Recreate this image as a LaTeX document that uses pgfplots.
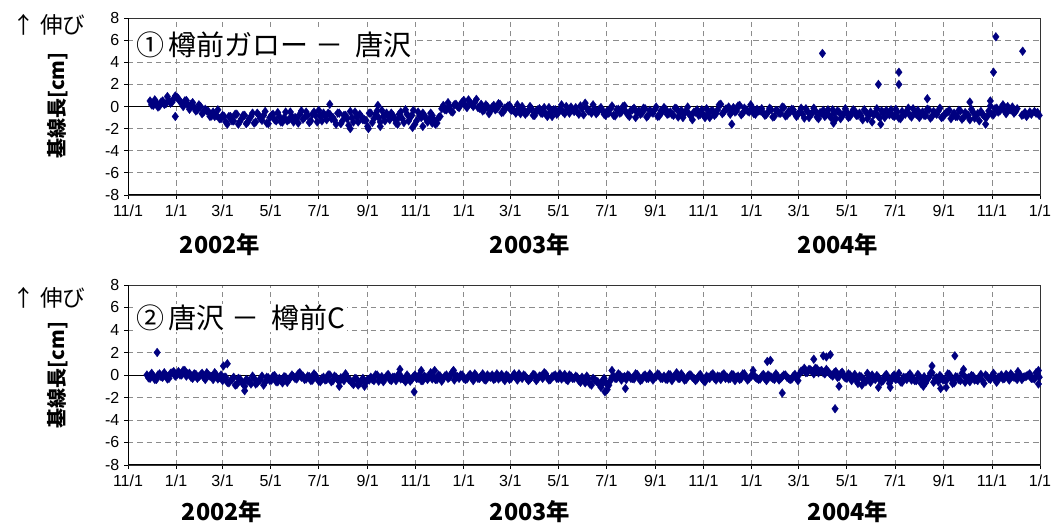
\documentclass[border=0pt]{standalone}
\usepackage{fontspec}
\setmainfont{Liberation Sans}
\newfontfamily\jp{Noto Sans CJK JP}
\usepackage{pgfplots}
\pgfplotsset{compat=1.18}
\definecolor{navy}{RGB}{0,0,128}
\definecolor{gridgray}{RGB}{140,140,140}

% days since 2001-11-01
\pgfplotstableread{
d v
28 0.5
32 0.1
36 0.35
40 0.05
44 0.5
48 0.25
52 0.55
56 0.4
60 0.95
64 0.7
68 0.3
72 0.5
76 0.1
80 0.2
84 -0.1
88 -0.3
92 0.0
96 -0.5
100 -0.4
104 -0.9
108 -0.5
112 -0.8
116 -1.1
120 -0.8
124 -1.4
128 -0.9
132 -1.3
136 -0.7
140 -1.6
144 -1.1
148 -0.8
152 -1.4
156 -0.9
160 -1.5
164 -0.6
168 -1.1
172 -0.8
176 -1.5
180 -1.0
184 -0.7
188 -1.3
192 -0.9
196 -1.4
200 -0.5
204 -1.2
208 -0.9
212 -1.0
216 -1.5
220 -0.4
224 -1.0
228 -0.8
232 -1.3
236 -0.5
240 -1.4
244 -0.9
248 -0.6
252 -1.2
256 -0.7
260 -1.0
264 -1.6
268 -0.6
272 -1.3
276 -0.8
280 -1.7
284 -1.0
288 -0.5
292 -1.4
296 -0.9
300 -1.2
304 -1.8
308 -0.6
312 -1.1
316 -0.4
320 -1.4
324 -0.9
328 -0.6
332 -1.2
336 -0.8
340 -1.5
344 -0.7
348 -1.1
352 -0.3
356 -1.3
360 -0.8
364 -1.6
368 -0.5
372 -1.0
376 -0.8
380 -1.4
384 -0.6
388 -1.2
392 -1.5
396 -0.9
400 0.1
404 -0.3
408 0.0
412 -0.5
416 0.2
420 -0.1
424 0.4
428 0.1
432 0.6
436 0.2
440 0.4
444 -0.1
448 0.2
452 -0.3
456 0.0
460 -0.4
464 0.1
468 -0.2
472 0.2
476 -0.5
480 -0.1
484 0.1
488 -0.3
492 -0.6
496 -0.2
500 0.0
504 -0.7
508 -0.4
512 -0.2
516 -0.8
520 -0.3
524 -0.6
528 -0.1
532 -0.9
536 -0.5
540 -0.3
544 -0.7
548 -0.2
552 -0.5
556 0.0
560 -0.6
564 -0.3
568 -0.1
572 -0.7
576 -0.2
580 0.3
584 -0.4
588 -0.6
592 -0.2
596 -0.5
600 -0.1
604 -0.7
608 -0.4
612 -0.2
616 -0.8
620 -0.3
624 -0.6
628 0.0
632 -0.5
636 -0.9
640 -0.3
644 -1.0
648 -0.4
652 -0.6
656 -0.2
660 -0.8
664 -0.5
668 -0.3
672 -0.9
676 -0.4
680 -0.1
684 -0.7
688 -0.5
692 -0.8
696 -0.2
700 -0.6
704 -1.0
708 -0.4
712 -0.7
716 -1.2
720 -0.5
724 -0.8
728 -0.3
732 -1.0
736 -0.6
740 -0.4
744 -0.8
748 -0.3
752 0.2
756 -0.5
760 -0.2
764 -0.7
768 -0.1
772 -0.4
776 0.1
780 -0.6
784 -0.3
788 -0.5
792 -0.1
796 -0.7
800 -0.4
804 -0.2
808 -0.8
812 -0.5
816 -0.3
820 -0.9
824 -0.4
828 -0.6
832 -0.1
836 -0.8
840 -0.5
844 -0.3
848 -0.9
852 -0.5
856 -0.7
860 -0.2
864 -1.0
868 -0.6
872 -0.4
876 -1.1
880 -0.6
884 -0.9
888 -0.3
892 -1.0
896 -0.6
900 -0.4
904 -1.1
908 -0.7
912 -0.5
916 -0.9
920 -0.3
924 -0.8
928 -0.6
932 -1.2
936 -0.5
940 -0.8
944 -1.4
948 -0.6
952 -0.9
956 -0.4
960 -1.0
964 -0.6
968 -0.3
972 -0.9
976 -0.5
980 -1.1
984 -0.7
988 -0.4
992 -0.8
996 -0.2
1000 -0.7
1004 -1.0
1008 -0.5
1012 -0.8
1016 -0.3
1020 -0.9
1024 -0.6
1028 -0.4
1032 -1.0
1036 -0.7
1040 -0.5
1044 -1.1
1048 -0.6
1052 -0.9
1056 -0.4
1060 -1.0
1064 -0.7
1068 -1.2
1072 -0.5
1076 -0.8
1080 -1.3
1084 -0.7
1088 -1.0
1092 -0.4
1096 -0.7
1100 -0.2
1104 -0.5
1108 -0.1
1112 -0.4
1116 0.0
1120 -0.3
1124 -0.6
1128 -0.2
1136 -0.7
1140 -0.9
1144 -0.5
1152 -0.6
1156 -0.8
60 -0.9
256 0.2
317 0.1
282 -2.0
305 -2.0
320 -1.8
342 -1.6
361 -1.9
374 -1.8
386 -1.5
766 -1.6
895 -1.5
955 -1.6
1088 -1.6
881 4.8
952 2.0
978 3.1
978 2.0
1014 0.7
1068 0.4
1094 0.5
1098 3.1
1101 6.3
1135 5.0
}\tarumaeA

\pgfplotstableread{
d v
24 0.0
28 -0.3
32 -0.1
36 -0.4
40 0.1
44 -0.2
48 0.0
52 -0.3
56 0.2
60 -0.1
64 0.3
68 0.0
72 0.4
76 0.1
80 -0.2
84 0.1
88 -0.3
92 0.0
96 -0.2
100 0.2
104 -0.1
108 -0.4
112 0.0
116 -0.2
120 -0.5
124 -0.2
128 -0.7
132 -0.4
136 -0.9
140 -0.3
144 -0.6
148 -1.0
152 -0.5
156 -0.8
160 -0.3
164 -0.7
168 -0.4
172 -0.9
176 -0.2
180 -0.5
184 -0.1
188 -0.6
192 -0.3
196 -0.7
200 -0.2
204 -0.4
208 0.0
212 -0.3
216 0.1
220 -0.2
224 -0.4
228 -0.1
232 -0.5
236 0.1
240 -0.3
244 -0.6
248 -0.2
252 -0.4
256 0.0
260 -0.5
264 -0.2
268 -0.6
272 -0.3
276 0.1
280 -0.4
284 -0.7
288 -0.3
292 -0.9
296 -0.5
300 -1.0
304 -0.4
308 -0.2
312 -0.5
316 0.0
320 -0.3
324 -0.6
328 -0.1
332 -0.4
336 -0.2
340 -0.5
344 0.1
348 -0.3
352 -0.6
356 -0.2
360 -0.4
364 0.0
368 -0.3
372 -0.5
376 -0.1
380 -0.4
384 0.2
388 -0.2
392 -0.4
396 -0.1
400 -0.3
404 0.0
408 -0.2
412 0.3
416 -0.1
420 -0.3
424 0.0
428 -0.4
432 -0.1
436 -0.2
440 0.1
444 -0.3
448 -0.1
452 -0.4
456 0.0
460 -0.2
464 -0.4
468 0.1
472 -0.2
476 -0.3
480 0.0
484 -0.4
488 -0.1
492 -0.2
496 0.1
500 -0.3
504 -0.1
508 -0.5
512 -0.2
516 0.0
520 -0.3
524 -0.1
528 0.2
532 -0.2
536 -0.4
540 -0.1
544 -0.3
548 0.1
552 -0.2
556 -0.4
560 0.0
564 -0.3
568 -0.1
572 -0.5
576 -0.2
580 -0.7
584 -0.3
588 -0.9
592 -0.4
596 -0.6
600 -1.1
604 -0.3
608 -1.3
612 -0.5
616 -0.1
620 -0.3
624 0.0
628 -0.2
632 -0.4
636 -0.1
640 -0.3
644 0.1
648 -0.2
652 -0.4
656 0.0
660 -0.3
664 -0.1
668 -0.2
672 0.1
676 -0.3
680 -0.1
684 -0.4
688 0.0
692 -0.2
696 0.2
700 -0.3
704 -0.1
708 -0.4
712 0.0
716 -0.2
720 -0.5
724 -0.1
728 -0.3
732 -0.6
736 -0.2
740 0.0
744 -0.3
748 -0.1
752 -0.4
756 0.1
760 -0.2
764 -0.3
768 0.0
772 -0.2
776 -0.4
780 0.1
784 -0.2
788 -0.3
792 0.0
796 -0.2
800 -0.4
804 -0.1
808 -0.3
812 0.0
816 -0.2
820 -0.4
824 -0.1
828 -0.3
832 0.0
836 -0.2
840 -0.4
844 -0.1
848 -0.3
852 0.1
856 0.4
860 0.2
864 0.5
868 0.3
872 0.6
876 0.2
880 0.4
884 0.1
888 0.3
892 0.0
896 0.2
900 -0.2
904 0.1
908 -0.1
912 -0.3
916 0.0
920 -0.2
924 -0.5
928 -0.1
932 -0.3
936 -0.6
940 -0.2
944 0.0
948 -0.4
952 -0.2
956 -0.6
960 -0.1
964 -0.3
968 -0.5
972 0.0
976 -0.3
980 -0.6
984 -0.2
988 -0.4
992 0.1
996 -0.3
1000 -0.5
1004 -0.1
1008 -0.4
1012 -0.7
1016 -0.2
1020 0.2
1024 -0.3
1028 -0.6
1032 -0.2
1036 -0.4
1040 0.1
1044 -0.3
1048 -0.7
1052 -0.2
1056 -0.5
1060 0.0
1064 -0.3
1068 -0.6
1072 -0.1
1076 -0.4
1080 -0.2
1084 -0.5
1088 0.0
1092 -0.3
1096 -0.1
1100 -0.4
1104 -0.2
1108 0.0
1112 -0.3
1116 -0.1
1120 0.1
1124 -0.2
1128 -0.4
1132 0.0
1136 -0.2
1140 -0.1
1144 0.1
1148 -0.3
1152 0.2
1156 -0.2
37 2.0
121 0.8
126 1.0
148 -1.4
268 -1.0
363 -1.5
345 0.5
372 0.4
389 0.4
413 0.4
600 -0.9
605 -1.5
614 0.4
631 -1.2
793 0.4
811 1.2
815 1.3
830 -1.6
870 1.4
882 1.7
886 1.6
891 1.8
897 -3.0
902 -1.0
931 -0.9
952 -1.1
967 -1.1
1009 -1.0
1020 0.8
1031 -1.2
1038 -1.1
1049 1.7
1060 0.5
1129 0.3
1155 0.4
1155 -0.8
}\karasawaC

\pgfplotsset{
  kiban/.style={
    scale only axis,
    width=684pt,
    xmin=0, xmax=1157,
    ymin=-8, ymax=8,
    ytick={-8,-6,...,8},
    xtick={0,61,120,181,242,304,365,426,485,546,607,669,730,791,851,912,973,1035,1096,1157},
    xticklabels={11/1,1/1,3/1,5/1,7/1,9/1,11/1,1/1,3/1,5/1,7/1,9/1,11/1,1/1,3/1,5/1,7/1,9/1,11/1,1/1},
    minor x tick num=3,
    xtick pos=bottom, ytick pos=left,
    tick align=outside,
    major tick length=3pt, minor tick length=2pt,
    every tick/.style={black, line width=0.6pt},
    grid=major,
    major grid style={gridgray, line width=0.6pt, dash pattern=on 4pt off 3pt},
    axis line style={black!80, line width=0.5pt},
    /pgf/number format/assume math mode=true,
    ticklabel style={font=\fontsize{12}{12}\selectfont},
    xticklabel style={yshift=-1pt},
    clip=true,
  },
  dots/.style={only marks, mark=diamond*, mark size=3.3pt,
    mark options={fill=navy, draw=navy, line width=0.2pt}},
}

\begin{document}
\begin{tikzpicture}
\path[use as bounding box] (0,0) rectangle (793.5pt,392.25pt);

% panel 1
\begin{axis}[kiban, at={(96pt,246pt)}, anchor=south west, height=132.75pt]
  \addplot[black, line width=0.7pt, no marks] coordinates {(0,0) (1157,0)};
  \addplot[dots] table[x=d, y=v] {\tarumaeA};
  \addplot[dots] coordinates {
    (30,0.15) (34,0.6) (38,-0.05) (42,0.4) (46,0.2) (50,0.9) (54,0.3) (58,0.7) (62,0.85) (66,0.45)
    (70,0.0) (74,0.55) (78,-0.25) (82,0.35) (86,-0.4) (90,0.15) (94,-0.65) (98,-0.25)
    (102,-0.45) (106,-0.85) (110,-0.9) (114,-0.3) (118,-1.1) (122,-0.9) (126,-1.6) (130,-0.9)
    (134,-1.3) (138,-0.7) (142,-1.35) (146,-0.8) (150,-1.55) (154,-1.1) (158,-0.6) (162,-1.4)
    (166,-0.8) (170,-1.25) (174,-0.45) (178,-1.55) (182,-0.8) (186,-1.2) (190,-0.55) (194,-1.4)
    (198,-1.0) (202,-1.3) (206,-0.5) (210,-1.4) (214,-1.1) (218,-0.7) (222,-1.15) (226,-0.5)
    (230,-1.45) (234,-0.7) (238,-0.8) (242,-0.35) (246,-1.3) (250,-0.85) (254,-0.6) (258,-1.1)
    (262,-1.25) (266,-0.6) (270,-1.55) (274,-0.8) (278,-1.1) (282,-0.45) (286,-1.4) (290,-0.95)
    (294,-0.7) (298,-1.2) (302,-1.25) (306,-0.6) (310,-1.45) (314,-0.7) (318,-1.0) (322,-0.35)
    (326,-1.3) (330,-0.85) (334,-0.6) (338,-1.1) (342,-1.15) (346,-0.5) (350,-1.45) (354,-0.7)
    (358,-1.0) (362,-0.35) (366,-1.3) (370,-0.85) (374,-0.6) (378,-1.1) (382,-1.15) (386,-0.8)
    (390,-1.6) (394,-1.0) (398,-0.2) (402,-0.3) (406,0.35) (410,-0.45) (414,0.15) (418,0.0)
    (422,0.2) (426,0.55) (430,-0.1) (434,0.35) (438,0.0) (442,0.65) (446,-0.15) (450,-0.4)
    (454,0.15) (458,-0.65) (462,-0.05) (466,-0.3) (470,0.25) (474,-0.55) (478,-0.15) (482,0.05)
    (486,-0.35) (490,-0.4) (494,0.15) (498,-0.65) (502,-0.3) (506,-0.55) (510,0.0) (514,-0.8)
    (518,-0.4) (522,-0.2) (526,-0.6) (530,-0.65) (534,-0.1) (538,-0.9) (542,-0.3) (546,-0.55)
    (550,0.15) (554,-0.65) (558,-0.25) (562,-0.05) (566,-0.45) (570,-0.5) (574,0.05) (578,-0.75)
    (582,-0.15) (586,-0.4) (590,0.15) (594,-0.65) (598,-0.25) (602,-0.35) (606,-0.8) (610,-0.6)
    (614,0.05) (618,-0.85) (622,-0.25) (626,-0.5) (630,0.05) (634,-0.75) (638,-0.35) (642,-0.15)
    (646,-0.55) (650,-0.7) (654,-0.15) (658,-0.95) (662,-0.35) (666,-0.6) (670,-0.05) (674,-0.85)
    (678,-0.45) (682,-0.25) (686,-0.65) (690,-0.7) (694,-0.15) (698,-0.95) (702,-0.35) (706,-0.6)
    (710,-0.05) (714,-0.85) (718,-0.5) (722,-0.3) (726,-0.7) (730,-0.75) (734,-0.2) (738,-1.0)
    (742,-0.4) (746,-0.65) (750,0.15) (754,-0.65) (758,-0.25) (762,-0.05) (766,-0.45) (770,-0.5)
    (774,0.05) (778,-0.75) (782,-0.15) (786,-0.4) (790,0.15) (794,-0.65) (798,-0.25) (802,-0.4)
    (806,-0.6) (810,-0.7) (814,-0.15) (818,-0.95) (822,-0.35) (826,-0.6) (830,-0.05) (834,-0.85)
    (838,-0.45) (842,-0.25) (846,-0.65) (850,-0.7) (854,-0.15) (858,-1.05) (862,-0.45) (866,-0.7)
    (870,-0.15) (874,-0.95) (878,-0.55) (882,-0.35) (886,-0.75) (890,-0.85) (894,-0.3) (898,-1.1)
    (902,-0.5) (906,-0.75) (910,-0.2) (914,-1.0) (918,-0.6) (922,-0.4) (926,-0.8) (930,-0.85)
    (934,-0.3) (938,-1.1) (942,-0.5) (946,-0.75) (950,-0.2) (954,-1.0) (958,-0.55) (962,-0.35)
    (966,-0.75) (970,-0.8) (974,-0.25) (978,-1.05) (982,-0.45) (986,-0.7) (990,-0.15) (994,-0.95)
    (998,-0.55) (1002,-0.35) (1006,-0.75) (1010,-0.8) (1014,-0.25) (1018,-1.05) (1022,-0.45) (1026,-0.7)
    (1030,-0.15) (1034,-0.95) (1038,-0.55) (1042,-0.35) (1046,-0.85) (1050,-0.9) (1054,-0.35) (1058,-1.15)
    (1062,-0.55) (1066,-0.8) (1070,-0.25) (1074,-1.05) (1078,-0.65) (1082,-0.45) (1086,-0.85) (1090,-0.9)
    (1094,0.05) (1098,-0.75) (1102,-0.15) (1106,-0.4) (1110,0.15) (1114,-0.65) (1118,-0.25) (1122,-0.05)
    (1126,-0.45) (1134,-0.8) (1138,-0.55) (1146,-0.7) (1150,-0.45) (1154,-0.55)
  };
  \draw[black, line width=2pt] (rel axis cs:0,0) -- (rel axis cs:0,1);
  \draw[black, line width=2pt] (rel axis cs:0,0) -- (rel axis cs:1,0);
\end{axis}

% panel 2
\begin{axis}[kiban, at={(96pt,43.5pt)}, anchor=south west, height=135pt]
  \addplot[black, line width=0.7pt, no marks] coordinates {(0,0) (1157,0)};
  \addplot[dots] table[x=d, y=v] {\karasawaC};
  \addplot[dots] coordinates {
    (26,-0.25) (30,0.15) (34,-0.4) (38,0.0) (42,-0.15) (46,0.2) (50,-0.35) (54,0.15) (58,0.3) (62,0.0)
    (66,0.0) (70,0.4) (74,-0.1) (78,0.15) (82,-0.3) (86,0.05) (90,-0.15) (94,0.15) (98,-0.4) (102,0.0)
    (106,-0.15) (110,0.2) (114,-0.35) (118,0.0) (122,-0.2) (126,-0.65) (130,-0.5) (134,-0.2) (138,-0.85)
    (142,-0.35) (146,-0.8) (150,-0.4) (154,-0.55) (158,-0.1) (162,-0.8) (166,-0.5) (170,-0.1) (174,-0.65)
    (178,-0.25) (182,-0.45) (186,-0.05) (190,-0.6) (194,-0.5) (198,-0.15) (202,-0.65) (206,-0.25)
    (210,-0.15) (214,-0.35) (218,0.2) (222,-0.1) (226,-0.35) (230,-0.15) (234,-0.45) (238,-0.05)
    (242,-0.55) (246,-0.3) (250,-0.45) (254,0.0) (258,-0.6) (262,-0.1) (266,-0.4) (270,-0.25)
    (274,-0.5) (278,-0.2) (282,-0.5) (286,-0.85) (290,-0.35) (294,-0.75) (298,-0.3) (302,-0.65)
    (306,-0.45) (310,-0.4) (314,0.0) (318,-0.55) (322,-0.15) (326,-0.3) (330,0.05) (334,-0.5)
    (338,-0.2) (342,-0.05) (346,-0.35) (350,-0.4) (354,0.0) (358,-0.55) (362,-0.15) (366,-0.3)
    (370,0.05) (374,-0.5) (378,-0.2) (382,-0.05) (386,-0.35) (390,-0.4) (394,0.0) (398,-0.55)
    (402,-0.1) (406,-0.3) (410,0.1) (414,-0.45) (418,-0.15) (422,0.0) (426,-0.3) (430,-0.35)
    (434,0.05) (438,-0.5) (442,-0.1) (446,-0.3) (450,0.1) (454,-0.45) (458,-0.15) (462,0.0)
    (466,-0.3) (470,-0.35) (474,0.05) (478,-0.5) (482,-0.1) (486,-0.3) (490,0.1) (494,-0.45)
    (498,-0.15) (502,0.0) (506,-0.3) (510,-0.35) (514,0.05) (518,-0.5) (522,-0.1) (526,-0.3)
    (530,0.1) (534,-0.45) (538,-0.15) (542,0.0) (546,-0.3) (550,-0.35) (554,0.05) (558,-0.5)
    (562,-0.1) (566,-0.3) (570,-0.2) (574,-0.65) (578,-0.4) (582,-0.1) (586,-0.8) (590,-0.3)
    (594,-0.55) (598,-0.85) (602,-0.5) (606,-0.7) (610,-0.9) (614,-0.2) (618,-0.3) (622,0.1)
    (626,-0.45) (630,-0.15) (634,0.0) (638,-0.3) (642,-0.35) (646,0.05) (650,-0.5) (654,-0.1)
    (658,-0.3) (662,0.1) (666,-0.45) (670,-0.15) (674,0.0) (678,-0.3) (682,-0.35) (686,0.05)
    (690,-0.5) (694,-0.1) (698,-0.3) (702,0.1) (706,-0.45) (710,-0.15) (714,0.0) (718,-0.3)
    (722,-0.35) (726,0.05) (730,-0.5) (734,-0.1) (738,-0.3) (742,0.1) (746,-0.45) (750,-0.15)
    (754,0.0) (758,-0.3) (762,-0.35) (766,0.05) (770,-0.5) (774,-0.1) (778,-0.3) (782,0.1)
    (786,-0.45) (790,-0.15) (794,0.0) (798,-0.3) (802,-0.35) (806,0.05) (810,-0.5) (814,-0.1)
    (818,-0.3) (822,0.1) (826,-0.45) (830,-0.15) (834,0.0) (838,-0.3) (842,-0.35) (846,0.05)
    (850,-0.5) (854,0.35) (858,0.6) (862,0.25) (866,0.45) (870,0.1) (874,0.55) (878,0.35)
    (882,0.2) (886,0.5) (890,0.15) (894,-0.1) (898,0.3) (902,-0.15) (906,0.25) (910,-0.25)
    (914,0.1) (918,-0.5) (922,0.05) (926,-0.75) (930,-0.15) (934,-0.4) (938,0.15) (942,-0.65)
    (946,-0.25) (950,-0.05) (954,-0.45) (958,-0.5) (962,0.05) (966,-0.75) (970,-0.15) (974,-0.4)
    (978,0.15) (982,-0.65) (986,-0.25) (990,-0.05) (994,-0.45) (998,-0.5) (1002,0.05) (1006,-0.75)
    (1010,-0.15) (1014,-0.4) (1018,0.15) (1022,-0.65) (1026,-0.25) (1030,-0.05) (1034,-0.45)
    (1038,-0.5) (1042,0.05) (1046,-0.75) (1050,-0.15) (1054,-0.4) (1058,0.15) (1062,-0.65)
    (1066,-0.25) (1070,-0.05) (1074,-0.45) (1078,-0.5) (1082,0.05) (1086,-0.75) (1090,-0.15)
    (1094,-0.4) (1098,0.15) (1102,-0.65) (1106,-0.25) (1110,-0.35) (1114,0.05) (1118,-0.45)
    (1122,-0.1) (1126,-0.25) (1130,0.1) (1134,-0.4) (1138,-0.15) (1142,0.0) (1146,-0.3)
    (1150,-0.35) (1154,0.05)
  };
  \draw[black, line width=2pt] (rel axis cs:0,0) -- (rel axis cs:0,1);
  \draw[black, line width=2pt] (rel axis cs:0,0) -- (rel axis cs:1,0);
\end{axis}

% titles inside plots
\node[anchor=west, font=\jp\fontsize{21}{21}\selectfont, fill=white, inner sep=1pt] at (101pt,358.5pt) {①\,樽前ガロー\ － \ 唐沢};
\node[anchor=west, font=\jp\fontsize{21}{21}\selectfont, fill=white, inner sep=1pt] at (101pt,153.75pt) {②\,唐沢\ － \ 樽前C};

% extension arrows
\node[font=\jp\fontsize{17}{17}\selectfont] at (36.75pt,373.5pt) {↑ 伸び};
\node[font=\jp\fontsize{17}{17}\selectfont] at (36.75pt,168.75pt) {↑ 伸び};

% y labels
\node[rotate=90, font=\jp\bfseries\fontsize{15}{15}\selectfont] at (43pt,313pt) {基線長[cm]};
\node[rotate=90, font=\jp\bfseries\fontsize{15}{15}\selectfont] at (43pt,111pt) {基線長[cm]};

% year labels
\node[font=\jp\bfseries\fontsize{17.5}{17.5}\selectfont] at (165pt,208.5pt) {2002年};
\node[font=\jp\bfseries\fontsize{17.5}{17.5}\selectfont] at (397.5pt,208.5pt) {2003年};
\node[font=\jp\bfseries\fontsize{17.5}{17.5}\selectfont] at (628.5pt,208.5pt) {2004年};
\node[font=\jp\bfseries\fontsize{17.5}{17.5}\selectfont] at (166.5pt,8.25pt) {2002年};
\node[font=\jp\bfseries\fontsize{17.5}{17.5}\selectfont] at (397.5pt,8.25pt) {2003年};
\node[font=\jp\bfseries\fontsize{17.5}{17.5}\selectfont] at (636pt,8.25pt) {2004年};
\end{tikzpicture}
\end{document}
